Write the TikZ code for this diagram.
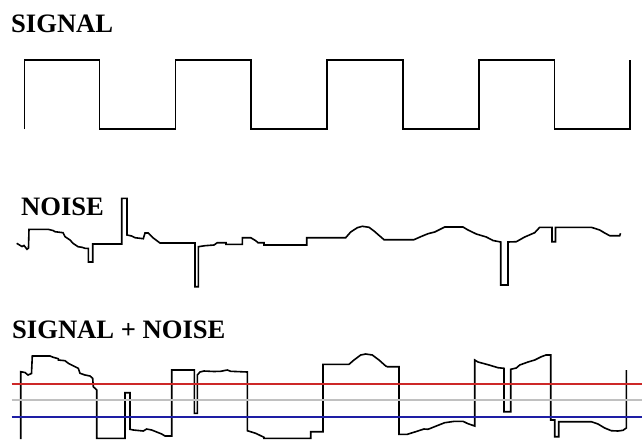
\documentclass[tikz,border=0pt]{standalone}
\usepackage{fontspec}
\setmainfont{Liberation Serif}
\definecolor{lvlred}{RGB}{205,40,40}
\definecolor{lvlgrey}{RGB}{192,192,192}
\definecolor{lvlblue}{RGB}{30,30,165}
\tikzset{
  wave/.style={draw=black, line width=1.6pt, line join=miter},
  level/.style={line width=1.8pt},
  lbl/.style={inner sep=0pt, anchor=base west, font=\fontsize{26.6}{30}\selectfont\bfseries}
}
\begin{document}
\begin{tikzpicture}[x=1pt,y=-1pt]
\useasboundingbox[fill=white] (0,0) rectangle (642,439);
% labels
\node[lbl] (sig) at (11,32) {SIGNAL};
\node[lbl] (noi) at (21,215) {NOISE};
\node[lbl] (sn) at (12,338) {SIGNAL + NOISE};
% signal
\draw[wave] (24.6,129)--(24.6,60)--(99.6,60)--(99.6,129)--(175.4,129)--(175.4,60)--(251.2,60)--(251.2,129)--(327,129)--(327,60)--(402.9,60)--(402.9,129)--(478.7,129)--(478.7,60)--(554.5,60)--(554.5,129)--(629.9,129)--(629.9,60);
% noise
\draw[wave] (16.7,243.3)--(22,246.5)--(24,245.5)--(27,249.3)--(28.5,248)--(29,229.3)--(48,229.3)--(53,230.5)--(55,231.7)--(63,232.7)--(65,236.7)--(70,240)--(73,243.3)--(78,246.7)--(82,247.3)--(85,248.3)--(88.3,248.3)--(88.3,262)--(92.7,262)--(92.7,244)--(121.7,244)--(121.7,198.3)--(127,198.3)--(127,235)--(131.7,236)--(135,237.7)--(143.3,238.7)--(145,233)--(148.3,233)--(153.3,238)--(160,243)--(195,243)--(195,286.7)--(198.3,286.7)--(198.3,246.7)--(205,245.7)--(214,245)--(217.3,242.7)--(226,242.7)--(226,244.3)--(242.3,244.3)--(242.3,237.7)--(250.7,237.7)--(255.7,240.7)--(258,242.7)--(264,242.7)--(264,245)--(306.7,245)--(306.7,237.7)--(345.7,237.7)--(350.7,232)--(357.3,227.7)--(362.3,226.3)--(369,227.3)--(374,231)--(384,239.7)--(414,239.7)--(420.7,236.7)--(428,233.7)--(434.7,232)--(444.7,227)--(463,227)--(468,230)--(476.3,234)--(486.3,237)--(493,240.5)--(500.7,242)--(500.7,285)--(508,285)--(508,242)--(516.3,241.7)--(524.7,237)--(534.7,232.7)--(539.7,227.3)--(552,227.3)--(552,241.7)--(555.5,241.7)--(555.5,227.3)--(591.3,227.3)--(599.7,230)--(604.7,233)--(609.7,235.7)--(619.7,235.7)--(620.5,233.3);
% signal + noise
\draw[wave] (20.7,439)--(20.7,371.7)--(25,372.5)--(28,375)--(31.5,373.5)--(32.3,356)--(50,356)--(53.3,357.3)--(58.3,358.7)--(58.3,360)--(65,360.7)--(68.3,363.3)--(71.7,365)--(78.3,368.3)--(80,373.3)--(85,375)--(90,376)--(92.7,378.3)--(93.3,386.7)--(96.7,390)--(96.7,438.3)--(125,438.3)--(125,392.7)--(130,392.7)--(130,429.3)--(133.3,430)--(143.3,431)--(146.7,429)--(151.7,430)--(156.7,432)--(161.7,434)--(165,436)--(171.7,436)--(171.7,370)--(194.3,370)--(194.3,413.3)--(197.3,413.3)--(197.3,375)--(200,372)--(204,371)--(214,371.5)--(220.7,371.3)--(227.3,370)--(230.7,371.3)--(247.3,372)--(247.3,430.7)--(255.7,433.3)--(264,437.3)--(264,438.3)--(310.7,438.3)--(310.7,431.7)--(323,431.7)--(323,364.3)--(349,364.3)--(354,360)--(360.7,355)--(365.7,354)--(372.3,355)--(379,360)--(385.7,366)--(387.3,366.7)--(399,366.7)--(399,434.3)--(407.3,434.3)--(415.7,431.7)--(424,429)--(428,429.3)--(436.3,426)--(444.7,422.7)--(454.7,421.3)--(463,421.3)--(468,423.7)--(474.7,426)--(474.7,360)--(478,362)--(488,364.7)--(498,367.7)--(504,368.3)--(504,411.7)--(510.7,411.7)--(510.7,369.3)--(516.3,368)--(519.7,365)--(528,362)--(534.7,360)--(541.3,356.7)--(546,355)--(550.7,355)--(550.7,420)--(554.7,420)--(554.7,436.7)--(558.7,436.7)--(558.7,421.7)--(591.3,421.7)--(598,424)--(604.7,428)--(611.3,430.7)--(618,431)--(623,430.3)--(626.3,428)--(626.3,370);
% threshold lines
\draw[level, lvlred] (11.5,384) -- (642,384);
\draw[level, lvlgrey] (11.5,400) -- (642,400);
\draw[level, lvlblue] (11.5,417.3) -- (642,417.3);
\end{tikzpicture}
\end{document}
